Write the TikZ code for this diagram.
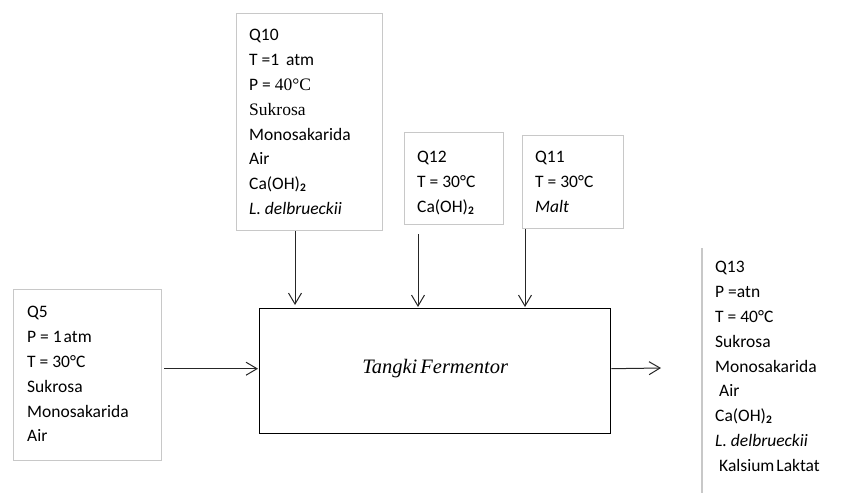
\documentclass[tikz,border=0pt]{standalone}
\usepackage{fontspec}
\setmainfont{Carlito}
\newfontfamily\tms{Liberation Serif}
\usetikzlibrary{arrows.meta,calc}
\definecolor{boxgray}{RGB}{200,200,200}
\newcommand{\subtwo}{\raisebox{-1.5pt}{\fontsize{11.5}{12}\selectfont\bfseries 2}}
\tikzset{
  stream/.style={draw=boxgray, line width=1.3pt, inner sep=0pt, anchor=north west},
  listing/.style={anchor=north west, inner sep=0pt, align=left,
    font=\fontsize{17.5}{24.8}\selectfont},
  unit/.style={draw=black, line width=1.4pt, inner sep=0pt, anchor=north west,
    font=\tms\itshape\fontsize{20}{24}\selectfont},
  feed/.style={draw=black!85, line width=1pt,
    -{Straight Barb[length=11pt,width=13pt,line width=1pt]}},
}
\begin{document}
\begin{tikzpicture}[x=1pt,y=-1pt]
\useasboundingbox (0,0) rectangle (845,493);

% fermenter
\node[unit, minimum width=351pt, minimum height=125pt] (tank) at (259,308) {};
\node[font=\tms\itshape\fontsize{20.5}{24}\selectfont, inner sep=0pt] (tanklabel)
  at ([yshift=2.5pt]tank.center) {Tangki\hspace{3pt}Fermentor};

% stream boxes
\node[stream, minimum width=146pt, minimum height=217pt] (q10) at (236,13) {};
\node[listing] (q10t) at (249,29.4) {Q10\\
  T =1 \,atm\\
  P = {\tms 40°C}\\
  {\tms Sukrosa}\\
  Monosakarida\\
  Air\\
  Ca(OH)\subtwo\\
  \textit{L. delbrueckii}};

\node[stream, minimum width=99pt, minimum height=92pt] (q12) at (404,132) {};
\node[listing] (q12t) at (417,151.4) {Q12\\
  T = 30°C\\
  Ca(OH)\subtwo};

\node[stream, minimum width=101pt, minimum height=93pt] (q11) at (522,135) {};
\node[listing] (q11t) at (535,151.4) {Q11\\
  T = 30°C\\
  \textit{Malt}};

\node[stream, minimum width=148pt, minimum height=171pt] (q5) at (13,289) {};
\node[listing] (q5t) at (27,306.4) {Q5\\
  P = 1\hspace{2pt}atm\\
  T = 30°C\\
  Sukrosa\\
  Monosakarida\\
  Air};

% product stream, its box runs past the frame
\coordinate (q13nw) at (702,248);
\coordinate (q13sw) at (702,493);
\draw[boxgray, line width=1.3pt] (q13nw) -- (q13sw);
\node[listing] (q13t) at (715,261.4) {Q13\\
  P =atn\\
  T = 40°C\\
  Sukrosa\\
  Monosakarida\\
  \hspace{4pt}Air\\
  Ca(OH)\subtwo\\
  \textit{L. delbrueckii}\\
  \hspace{4pt}Kalsium\hspace{2pt}Laktat};

% feeds into the fermenter
\draw[feed, shorten >=3pt] ([xshift=59pt]q10.south west) -- ([xshift=59pt]q10.south west |- tank.north);
\draw[feed, shorten <=9pt, shorten >=1pt] ([xshift=14pt]q12.south west) -- ([xshift=14pt]q12.south west |- tank.north);
\draw[feed, shorten >=1pt] ([xshift=3pt]q11.south west) -- ([xshift=3pt]q11.south west |- tank.north);
\draw[feed, shorten <=2pt, shorten >=1pt] ([yshift=2.5pt]tank.west -| q5.east) -- ([yshift=2.5pt]tank.west);

% product out
\coordinate (outend) at (661,368);
\draw[feed] ([yshift=2.5pt]tank.east) -- (outend);
\end{tikzpicture}
\end{document}
